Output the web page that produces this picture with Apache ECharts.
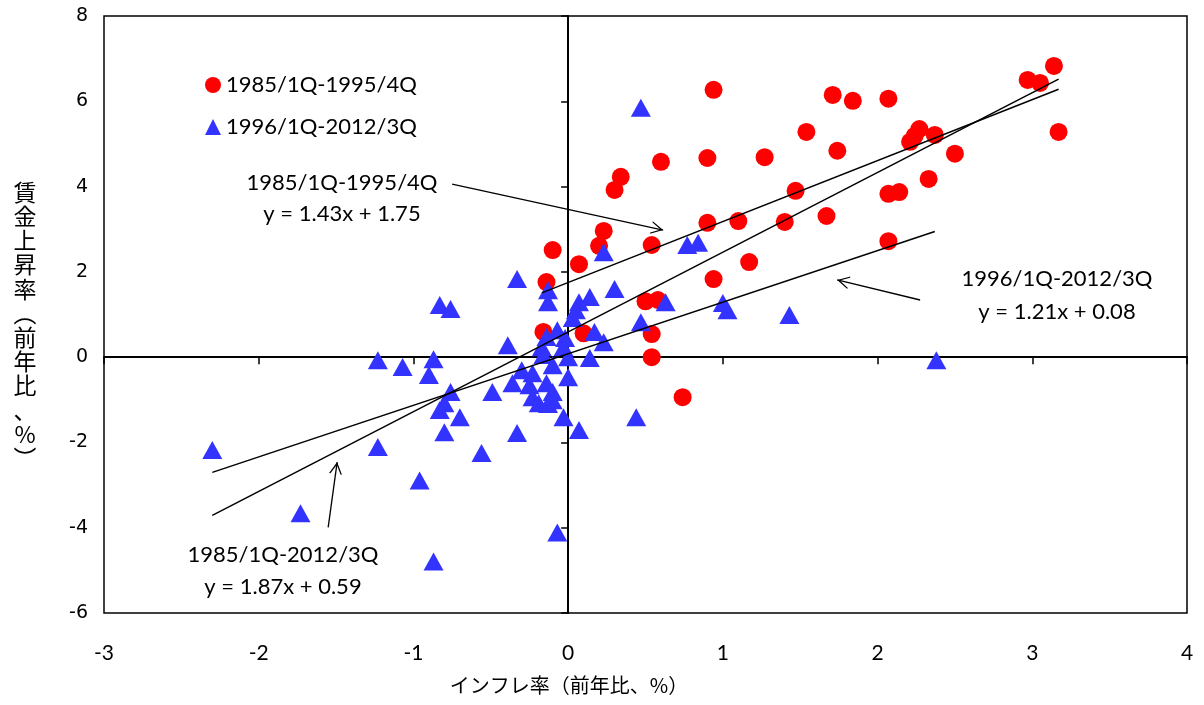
<!DOCTYPE html>
<html>
<head>
<meta charset="utf-8">
<title>賃金上昇率とインフレ率</title>
<script src="https://cdn.jsdelivr.net/npm/echarts@6/dist/echarts.min.js"></script>
<style>
  html, body { margin: 0; padding: 0; background: #fff; }
  #wage-inflation { width: 1204px; height: 705px; }
</style>
</head>
<body>
<div id="wage-inflation"></div>
<script>
// 1985/1Q-1995/4Q  (inflation %, wage growth %)
var redX = [0.94, 1.71, 1.84, 2.07, 3.14, 2.97, 3.05, 1.54, 1.74, 0.90, 1.27, 0.60, 0.34, 0.30, 1.47,
  0.90, 1.10, 1.40, 1.67, 0.23, 0.20, 0.54, 0.07, 1.17, 0.94, 0.50, 0.58, -0.10, -0.14, -0.16,
  0.10, 0.54, 0.54, 0.74, 2.21, 2.27, 2.24, 2.37, 2.50, 2.33, 2.07, 2.14, 2.07, 3.17];
var redY = [6.27, 6.15, 6.01, 6.06, 6.83, 6.50, 6.43, 5.28, 4.84, 4.67, 4.69, 4.58, 4.23, 3.92, 3.90,
  3.15, 3.19, 3.17, 3.31, 2.96, 2.61, 2.63, 2.18, 2.23, 1.83, 1.31, 1.34, 2.51, 1.76, 0.59,
  0.56, 0.54, 0.00, -0.94, 5.05, 5.35, 5.19, 5.21, 4.77, 4.18, 3.83, 3.87, 2.72, 5.28];

// 1996/1Q-2012/3Q
var blueX = [0.47, -2.30, -1.73, -0.87, -0.07, -1.23, -1.23, -1.07, -0.87, -0.90, -0.83, -0.76, -0.33,
  0.23, 0.77, 0.84, 1.00, 1.03, 1.43, 2.38, 0.63, 0.47, 0.30, 0.14, 0.17, 0.23, 0.14, 0.44, 0.07,
  -0.03, -0.33, -0.56, -0.70, -0.80, -0.96, -0.76, -0.80, -0.83, -0.49, -0.13, -0.13, 0.07, 0.05,
  0.03, -0.39, -0.07, -0.14, -0.17, -0.03, 0.00, -0.16, -0.30, -0.23, -0.36, -0.10, 0.00, -0.25,
  -0.14, -0.10, -0.23, -0.19, -0.10, -0.13, -0.02];
var blueY = [5.85, -2.18, -3.66, -4.79, -4.11, -2.11, -0.07, -0.23, -0.05, -0.42, 1.22, 1.13, 1.83,
  2.46, 2.63, 2.68, 1.27, 1.10, 0.99, -0.07, 1.29, 0.82, 1.60, 1.41, 0.59, 0.35, -0.02, -1.41, -1.71,
  -1.41, -1.78, -2.25, -1.41, -1.76, -2.89, -0.82, -1.08, -1.24, -0.82, 1.57, 1.29, 1.29, 1.10,
  0.92, 0.28, 0.63, 0.47, 0.23, 0.23, 0.00, 0.05, -0.31, -0.38, -0.61, -0.19, -0.47, -0.66,
  -0.61, -0.82, -0.94, -1.08, -1.01, -1.10, 0.45];

// regression lines: 0 = 1985-1995, 1 = 1996-2012, 2 = whole period
var periodNames = ["1985/1Q-1995/4Q", "1996/1Q-2012/3Q", "1985/1Q-2012/3Q"];
var fitSlope = [1.43, 1.21, 1.87];
var fitIntercept = [1.75, 0.08, 0.59];
var fitFrom = [-0.17, -2.30, -2.30];
var fitTo = [3.17, 2.37, 3.17];

// arrows from the notes to the lines (data coords)
var arrowFrom = [[-0.75, 4.06], [2.275, 1.34], [-1.551, -3.99]];
var arrowTo = [[0.614, 2.98], [1.739, 1.81], [-1.493, -2.46]];

var xRange = [-3, 4];
var yRange = [-6, 8];

var xName = "インフレ率（前年比、%）";
var yName = ["賃", "金", "上", "昇", "率", "︵", "前", "年", "比", "、", "%", "︶"];

var fontLatin = "Lato, 'Noto Sans', sans-serif";
var fontCJK = "'Noto Sans CJK JP', sans-serif";

function zip(xs, ys) {
  var out = [];
  for (var i = 0; i < xs.length; i++) out.push([xs[i], ys[i]]);
  return out;
}

function fitLine(i) {
  return [
    [fitFrom[i], fitSlope[i] * fitFrom[i] + fitIntercept[i]],
    [fitTo[i], fitSlope[i] * fitTo[i] + fitIntercept[i]]
  ];
}

function fitText(i) {
  return periodNames[i] + "\ny = " + fitSlope[i].toFixed(2) + "x + " + fitIntercept[i].toFixed(2);
}

var chevron = "path://M0,10 L5,0 L10,10 L8.9,10 L5,2.2 L1.1,10 Z";

var arrowData = [];
for (var a = 0; a < arrowFrom.length; a++) {
  arrowData.push([{ coord: arrowFrom[a] }, { coord: arrowTo[a] }]);
}

var chart = echarts.init(document.getElementById("wage-inflation"));

var lineSeries = [];
for (var k = 0; k < fitSlope.length; k++) {
  lineSeries.push({
    name: "fit" + k,
    type: "line",
    data: fitLine(k),
    showSymbol: false,
    silent: true,
    z: 5,
    lineStyle: { color: "#000", width: 1.5 }
  });
}
// arrows ride on the first fit line
lineSeries[0].markLine = {
  silent: true,
  symbol: ["none", chevron],
  symbolSize: [13, 12],
  symbolOffset: [0, [0, 6]],
  label: { show: false },
  lineStyle: { color: "#000", width: 1.3, type: "solid" },
  data: arrowData
};

var option = {
  animation: false,
  backgroundColor: "#fff",
  grid: {
    left: 104,
    right: 17,
    top: 16,
    bottom: 92,
    show: true,
    borderColor: "#000",
    borderWidth: 1.5,
    containLabel: false,
    outerBoundsMode: "none"
  },
  legend: {
    data: [periodNames[0], periodNames[1]],
    orient: "vertical",
    left: 200,
    top: 69,
    itemWidth: 16,
    itemHeight: 16,
    itemGap: 20,
    textStyle: { fontFamily: fontLatin, fontSize: 22, color: "#000" }
  },
  xAxis: [
    {
      type: "value",
      min: xRange[0],
      max: xRange[1],
      interval: 1,
      position: "bottom",
      axisLine: { show: false, onZero: false },
      axisTick: { show: false },
      splitLine: { show: false },
      axisLabel: { color: "#000", fontSize: 21, fontFamily: fontLatin, margin: 30 }
    },
    {
      type: "value",
      min: xRange[0],
      max: xRange[1],
      interval: 1,
      position: "bottom",
      axisLine: { show: true, onZero: true, onZeroAxisIndex: 0, lineStyle: { color: "#000", width: 2 } },
      axisTick: { show: true, length: 7, lineStyle: { color: "#000", width: 1.5 } },
      axisLabel: { show: false },
      splitLine: { show: false }
    }
  ],
  yAxis: [
    {
      type: "value",
      min: yRange[0],
      max: yRange[1],
      interval: 2,
      position: "left",
      axisLine: { show: false, onZero: false },
      axisTick: { show: false },
      splitLine: { show: false },
      axisLabel: { color: "#000", fontSize: 19, fontFamily: "'DejaVu Sans', sans-serif", margin: 16 }
    },
    {
      type: "value",
      min: yRange[0],
      max: yRange[1],
      interval: 2,
      position: "left",
      axisLine: { show: true, onZero: true, onZeroAxisIndex: 0, lineStyle: { color: "#000", width: 2 } },
      axisTick: { show: true, length: 7, lineStyle: { color: "#000", width: 1.5 } },
      axisLabel: { show: false },
      splitLine: { show: false }
    }
  ],
  graphic: [
    {
      type: "text",
      x: 25,
      y: 180,
      style: {
        text: yName.join("\n"),
        align: "center",
        verticalAlign: "top",
        lineHeight: 24.2,
        fontSize: 23,
        fontFamily: fontCJK,
        fill: "#000"
      }
    },
    {
      type: "text",
      x: 569,
      y: 675,
      style: { text: xName, align: "center", verticalAlign: "top", fontSize: 20, fontFamily: fontCJK, fill: "#000" }
    },
    {
      type: "text",
      x: 342,
      y: 167,
      style: { text: fitText(0), align: "center", verticalAlign: "top", lineHeight: 31, fontSize: 22, fontFamily: fontLatin, fill: "#000" }
    },
    {
      type: "text",
      x: 1057,
      y: 262,
      style: { text: fitText(1), align: "center", verticalAlign: "top", lineHeight: 33, fontSize: 22, fontFamily: fontLatin, fill: "#000" }
    },
    {
      type: "text",
      x: 283,
      y: 539,
      style: { text: fitText(2), align: "center", verticalAlign: "top", lineHeight: 32, fontSize: 22, fontFamily: fontLatin, fill: "#000" }
    }
  ],
  series: [
    {
      name: periodNames[0],
      type: "scatter",
      data: zip(redX, redY),
      symbol: "circle",
      symbolSize: 18,
      z: 3,
      itemStyle: { color: "#ff0000", opacity: 1 }
    },
    {
      name: periodNames[1],
      type: "scatter",
      data: zip(blueX, blueY),
      symbol: "triangle",
      symbolSize: [20, 18],
      z: 4,
      itemStyle: { color: "#3333ff", opacity: 1 }
    }
  ].concat(lineSeries)
};

chart.setOption(option);
window.addEventListener("resize", function () {
  chart.resize();
});
</script>
</body>
</html>
